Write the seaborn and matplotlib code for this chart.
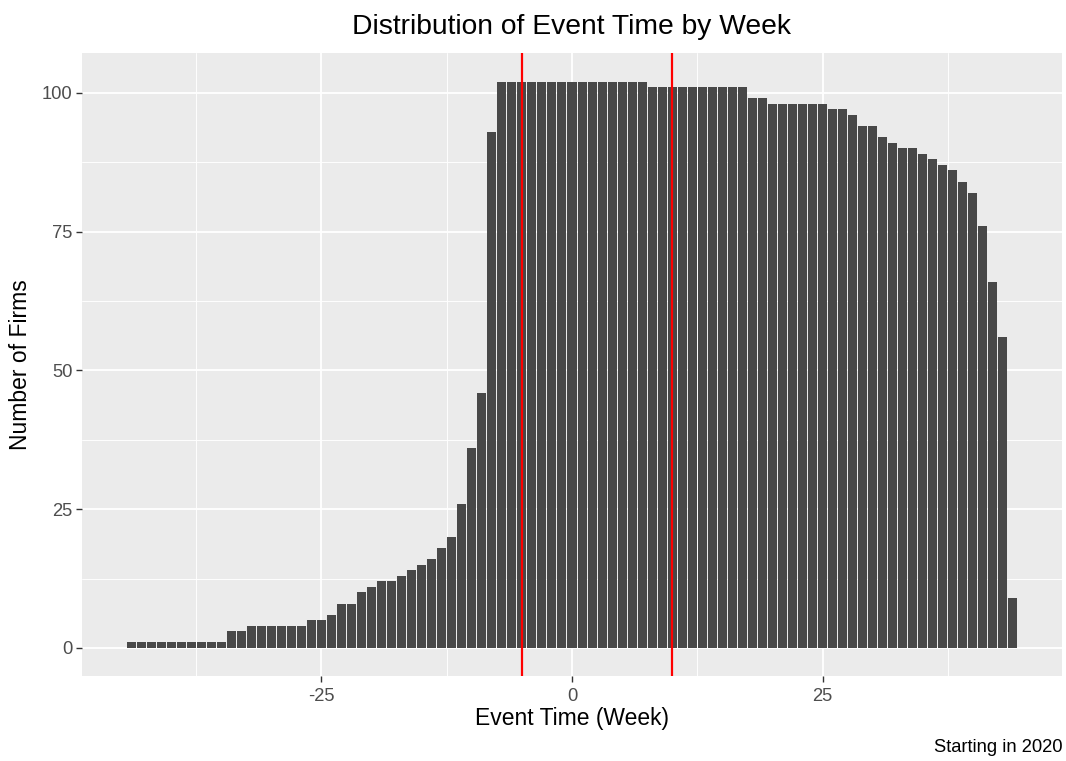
import numpy as np
import pandas as pd
import matplotlib
matplotlib.use("Agg")
import matplotlib.pyplot as plt
import seaborn as sns
from matplotlib.ticker import FixedLocator

# ---- data ----
event_week = list(range(-44, 45))
n_firms = [
    1, 1, 1, 1, 1, 1, 1, 1, 1, 1,          # -44..-35
    3, 3,                                  # -34,-33
    4, 4, 4, 4, 4, 4,                      # -32..-27
    5, 5, 6, 8, 8, 10, 11, 12, 12, 13,     # -26..-17
    14, 15, 16, 18, 20, 26, 36, 46, 93,    # -16..-8
    102, 102, 102, 102, 102, 102, 102, 102, 102, 102, 102, 102, 102, 102, 102,  # -7..7
    101, 101, 101, 101, 101, 101, 101, 101, 101, 101,  # 8..17
    99, 99,                                # 18,19
    98, 98, 98, 98, 98, 98,                # 20..25
    97, 97, 96, 94, 94, 92, 91, 90, 90, 89,  # 26..35
    88, 87, 86, 84, 82, 76, 66, 56, 9,     # 36..44
]
vlines = [-5, 10]
x_ticks = [-25, 0, 25]
y_ticks = [0, 25, 50, 75, 100]
title = "Distribution of Event Time by Week"
xlabel = "Event Time (Week)"
ylabel = "Number of Firms"
caption = "Starting in 2020"

df = pd.DataFrame({"week": event_week, "firms": n_firms})

sns.set_theme(style="darkgrid")
plt.rcParams["font.family"] = ["Liberation Sans", "DejaVu Sans"]

W, H = 1066, 761
fig = plt.figure(figsize=(W / 100, H / 100), dpi=100)
left, right, top, bottom = 82, 1062, 53.3, 676.3
ax = fig.add_axes([left / W, 1 - bottom / H, (right - left) / W, (bottom - top) / H])
ax.set_facecolor("#EBEBEB")

sns.barplot(data=df, x="week", y="firms", native_scale=True, width=0.9,
            color="#484848", saturation=1, edgecolor="none", ax=ax, zorder=3)

for v in vlines:
    ax.axvline(v, color="#FF0000", lw=1.6, zorder=4)

ax.set_xlim(-48.9, 48.9)
ax.set_ylim(-5.1, 107.1)
ax.xaxis.set_major_locator(FixedLocator(x_ticks))
ax.yaxis.set_major_locator(FixedLocator(y_ticks))
ax.xaxis.set_minor_locator(FixedLocator([-37.5, -12.5, 12.5, 37.5]))
ax.yaxis.set_minor_locator(FixedLocator([12.5, 37.5, 62.5, 87.5]))
ax.set_xticklabels([str(t) for t in x_ticks])
ax.set_yticklabels([str(t) for t in y_ticks])

ax.grid(which="major", color="white", lw=1.3, zorder=0)
ax.grid(which="minor", color="white", lw=0.65, zorder=0)
ax.set_axisbelow(True)
for s in ax.spines.values():
    s.set_visible(False)

ax.tick_params(which="major", length=4, width=1.0, color="#333333",
               labelcolor="#4D4D4D", labelsize=13.2, pad=3,
               bottom=True, left=True)
ax.tick_params(axis="x", which="major", pad=4.5)
ax.tick_params(which="minor", length=0)
ax.set_xlabel("")
ax.set_ylabel("")

fig.text((left + right) / 2 / W, 1 - 27 / H, title, ha="center", va="center",
         fontsize=20.3, color="black")
fig.text((left + right) / 2 / W, 1 - 719 / H, xlabel, ha="center", va="center",
         fontsize=16.5, color="black")
fig.text(21 / W, 1 - (top + bottom) / 2 / H, ylabel, ha="center", va="center",
         rotation=90, fontsize=16.5, color="black")
fig.text(1063 / W, 1 - 748 / H, caption, ha="right", va="center",
         fontsize=13.2, color="black")

fig.savefig("out.png", dpi=100, facecolor="white")
